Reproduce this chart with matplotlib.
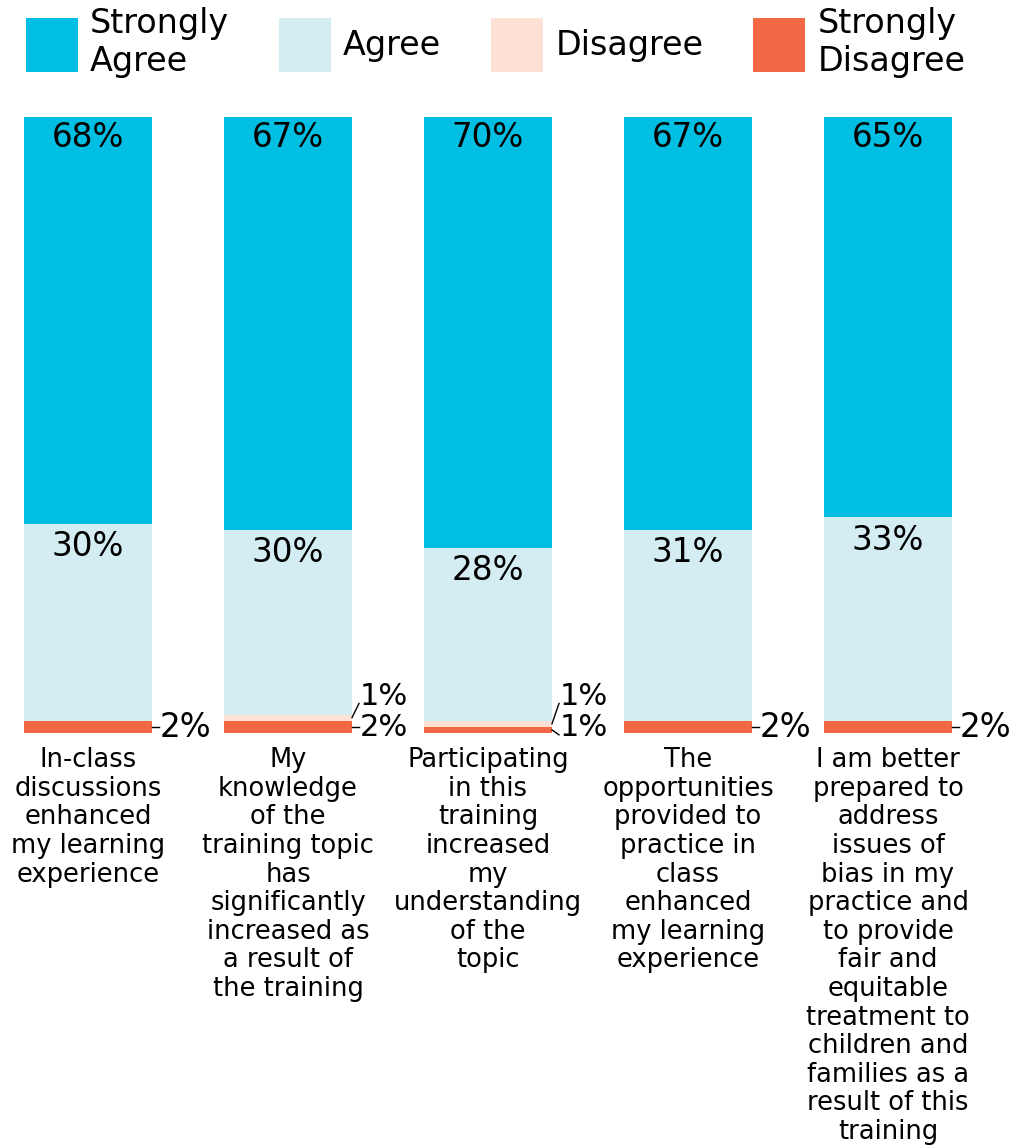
import matplotlib.pyplot as plt
import numpy as np

# data
categories = [
    "In-class\ndiscussions\nenhanced\nmy learning\nexperience",
    "My\nknowledge\nof the\ntraining topic\nhas\nsignificantly\nincreased as\na result of\nthe training",
    "Participating\nin this\ntraining\nincreased\nmy\nunderstanding\nof the\ntopic",
    "The\nopportunities\nprovided to\npractice in\nclass\nenhanced\nmy learning\nexperience",
    "I am better\nprepared to\naddress\nissues of\nbias in my\npractice and\nto provide\nfair and\nequitable\ntreatment to\nchildren and\nfamilies as a\nresult of this\ntraining",
]
series = ["Strongly\nAgree", "Agree", "Disagree", "Strongly\nDisagree"]
# segment heights as drawn (bottom to top: SD, D, A, SA)
strongly_disagree = [2, 2, 1, 2, 2]
disagree = [0, 1, 1, 0, 0]
agree = [32, 30, 28, 31, 33]
strongly_agree = [66, 67, 70, 67, 65]
# printed labels
sa_labels = ["68%", "67%", "70%", "67%", "65%"]
a_labels = ["30%", "30%", "28%", "31%", "33%"]
d_labels = ["", "1%", "1%", "", ""]
sd_labels = ["2%", "2%", "1%", "2%", "2%"]

colors = ["#00BFE3", "#D4EDF2", "#FDE1D4", "#F26845"]

plt.rcParams['font.family'] = ['DejaVu Sans']

fig = plt.figure(figsize=(10.13, 11.47), dpi=100)
ax = fig.add_axes([0, 414 / 1147, 1, 616 / 1147])

x = np.arange(len(categories))
w = 0.64
sd = np.array(strongly_disagree)
d = np.array(disagree)
a = np.array(agree)
sa = np.array(strongly_agree)

b_sd = ax.bar(x, sd, w, color=colors[3], label=series[3])
b_d = ax.bar(x, d, w, bottom=sd, color=colors[2], label=series[2])
b_a = ax.bar(x, a, w, bottom=sd + d, color=colors[1], label=series[1])
b_sa = ax.bar(x, sa, w, bottom=sd + d + a, color=colors[0], label=series[0])

ax.set_xlim(-0.44, 4.625)
ax.set_ylim(0, 100)
ax.axis('off')

fs = 23.5
small = 22
for i in range(len(x)):
    top = sd[i] + d[i] + a[i] + sa[i]
    ax.text(x[i], top - 3.4, sa_labels[i], ha='center', va='center', fontsize=fs)
    ax.text(x[i], sd[i] + d[i] + a[i] - 3.7, a_labels[i], ha='center', va='center', fontsize=fs)
    right = x[i] + w / 2
    if d_labels[i]:
        ym = sd[i] + d[i] / 2
        ax.plot([right, right + 0.035], [ym, 4.8], color='black', lw=1)
        ax.text(right + 0.04, 6.0, d_labels[i], ha='left', va='center', fontsize=small)
    if sd_labels[i]:
        ym = sd[i] / 2
        end = 1.0 if d_labels[i] == "" or sd[i] > 1 else -0.3
        ax.plot([right, right + 0.035], [ym, end], color='black', lw=1, clip_on=False)
        ax.text(right + 0.04, 0.9, sd_labels[i], ha='left', va='center',
                fontsize=fs if d_labels[i] == "" else small)
    ax.text(x[i], -2.3, categories[i], ha='center', va='top', fontsize=18.5,
            linespacing=1.13)

handles = [b_sa, b_a, b_d, b_sd]
fig.legend(handles, series, loc='upper left', bbox_to_anchor=(0.006, 1.0115),
           ncol=4, frameon=False, fontsize=24, handlelength=1.56, handleheight=2.1,
           handletextpad=0.36, columnspacing=1.5, borderaxespad=0.2, labelspacing=0.3)

plt.savefig("out.png", dpi=100)
